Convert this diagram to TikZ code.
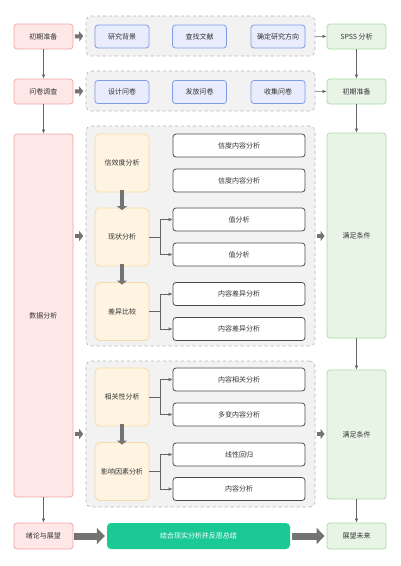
\documentclass[tikz,border=0pt]{standalone}
\usepackage{fontspec}
\setmainfont{Noto Sans CJK SC}
\usetikzlibrary{arrows.meta, positioning}
\definecolor{txt}{HTML}{333333}
\definecolor{redfill}{HTML}{FDE7E7}
\definecolor{redline}{HTML}{F2A6A6}
\definecolor{bluefill}{HTML}{E8ECFC}
\definecolor{blueline}{HTML}{7F9AE6}
\definecolor{greenfill}{HTML}{E8F5E6}
\definecolor{greenline}{HTML}{A9DBA5}
\definecolor{yellowfill}{HTML}{FEF4E1}
\definecolor{yellowline}{HTML}{F6DBA4}
\definecolor{teal}{HTML}{1BC995}
\tikzstyle{redbox} = [rectangle, rounded corners=3pt, draw=redline, fill=redfill, line width=.8pt, minimum width=59pt, align=center, text=txt]
\tikzstyle{greenbox} = [rectangle, rounded corners=3pt, draw=greenline, fill=greenfill, line width=.8pt, minimum width=59pt, align=center, text=txt]
\tikzstyle{bluebox} = [rectangle, rounded corners=3pt, draw=blueline, fill=bluefill, line width=.8pt, minimum width=54pt, minimum height=23pt, text=txt]
\tikzstyle{yellowbox} = [rectangle, rounded corners=5pt, draw=yellowline, fill=yellowfill, line width=.8pt, minimum width=54pt, minimum height=58pt, text=txt]
\tikzstyle{whitebox} = [rectangle, rounded corners=3pt, draw=black!70, fill=white, line width=.8pt, minimum width=132pt, minimum height=23pt, text=txt]
\tikzstyle{group} = [rectangle, rounded corners=5pt, draw=black!30, dashed, fill=black!5, line width=.6pt, minimum width=229pt]
\tikzstyle{arrow} = [draw=black!60, line width=.6pt, -{Latex[length=4pt, width=3.5pt]}]
\tikzstyle{fatarrow} = [draw=black!55, line width=4pt, -{Triangle[length=4pt, width=10pt]}]
\tikzstyle{bigarrow} = [draw=black!55, line width=7pt, -{Triangle[length=8pt, width=16pt]}]

\begin{document}
\begin{tikzpicture}[x=1pt, y=-1pt, font=\fontsize{7}{8}\selectfont]
\useasboundingbox (0,0) rectangle (400,566);
% dashed groups
\node[group, minimum height=40pt] (g1) at (200.5,36) {};
\node[group, minimum height=40pt] (g2) at (200.5,91) {};
\node[group, minimum height=220pt] (g3) at (200.5,236) {};
\node[group, minimum height=146pt] (g4) at (200.5,434) {};

% left column
\node[redbox, minimum height=25pt] (r1) at (43.5,36.5) {初期准备};
\node[redbox, minimum height=25pt] (r2) at (43.5,91.5) {问卷调查};
\node[redbox, minimum height=363pt] (r3) at (43.5,315.5) {数据分析};
\node[redbox, minimum height=26pt] (r4) at (43.5,536) {绪论与展望};

% right column
\node[greenbox, minimum height=25pt] (s1) at (356.5,36.5) {SPSS 分析};
\node[greenbox, minimum height=25pt] (s2) at (356.5,91.5) {初期准备};
\node[greenbox, minimum height=205pt] (s3) at (356.5,235.5) {满足条件};
\node[greenbox, minimum height=129pt] (s4) at (356.5,434.5) {满足条件};
\node[greenbox, minimum height=26pt] (s5) at (356.5,536) {展望未来};

% blue steps
\foreach \x/\n/\t in {122/b1/研究背景, 199.5/b2/查找文献, 278/b3/确定研究方向}{
     \node[bluebox] (\n) at (\x,36.5) {\t};
}
\foreach \x/\n/\t in {122/b4/设计问卷, 199.5/b5/发放问卷, 278/b6/收集问卷}{
     \node[bluebox] (\n) at (\x,92) {\t};
}

% analysis stages
\node[yellowbox] (y1) at (122,163) {信效度分析};
\node[yellowbox] (y2) at (122,237) {现状分析};
\node[yellowbox] (y3) at (122,311.5) {差异比较};
\node[yellowbox] (y4) at (122,397) {相关性分析};
\node[yellowbox] (y5) at (122,471.5) {影响因素分析};

% analysis content
\foreach \y/\n/\t in {145.5/w1/信度内容分析, 180.5/w2/信度内容分析, 219.5/w3/值分析, 254.5/w4/值分析, 294/w5/内容差异分析, 329/w6/内容差异分析, 379.5/w7/内容相关分析, 414.5/w8/多变内容分析, 454.5/w9/线性回归, 489/w10/内容分析}{
     \node[whitebox] (\n) at (239,\y) {\t};
}

% summary bar
\node[rectangle, rounded corners=4pt, fill=teal, draw=none, minimum width=183pt, minimum height=26pt, text=white] (sum) at (198.5,536) {结合现实分析并反思总结};

% arrows
\draw[arrow] (r1) -- (r2);
\draw[arrow] (r2) -- (r3);
\draw[arrow] (r3) -- (r4);
\draw[arrow] (s1) -- (s2);
\draw[arrow] (s2) -- (s3);
\draw[arrow] (s3) -- (s4);
\draw[arrow] (s4) -- (s5);
\draw[arrow] (g1) -- (s1);
\draw[arrow] (g2) -- (s2);

\draw[fatarrow] ([xshift=1.5pt]r1.east) -- ([xshift=-2.5pt]g1.west);
\draw[fatarrow] ([xshift=1.5pt]r2.east) -- ([xshift=-2.5pt]g2.west);
\draw[fatarrow] ([xshift=1.5pt]g3.west -| r3.east) -- ([xshift=-2.5pt]g3.west);
\draw[fatarrow] ([xshift=1.5pt]g4.west -| r3.east) -- ([xshift=-2.5pt]g4.west);
\draw[fatarrow] ([xshift=1.5pt]g3.east) -- ([xshift=-2pt]g3.east -| s3.west);
\draw[fatarrow] ([xshift=1.5pt]g4.east) -- ([xshift=-2pt]g4.east -| s4.west);

\foreach \a/\b in {y1/y2, y2/y3, y4/y5}{
     \draw[fatarrow] ([yshift=2pt]\a.south) -- ([yshift=-2.5pt]\b.north);
}

\draw[bigarrow] ([xshift=1pt]r4.east) -- ([xshift=-2pt]sum.west);
\draw[bigarrow] ([xshift=2pt]sum.east) -- ([xshift=-2pt]s5.west);

% branches
\foreach \a/\b/\c in {y2/w3/w4, y3/w5/w6, y4/w7/w8, y5/w9/w10}{
     \draw[arrow] (\a.east) -- ++(11,0) |- (\b.west);
     \draw[arrow] (\a.east) -- ++(11,0) |- (\c.west);
}
\end{tikzpicture}
\end{document}
